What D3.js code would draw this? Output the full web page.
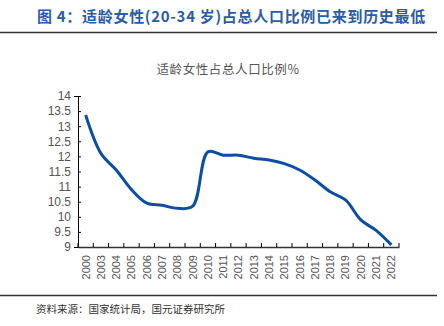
<!DOCTYPE html>
<html><head><meta charset="utf-8">
<script src="https://cdn.jsdelivr.net/npm/d3@7"></script>
<style>body{margin:0;background:#fff;}svg{display:block;}</style>
</head><body>
<script>
const years = ["2000","2003","2004","2005","2006","2007","2008","2009","2010","2011","2012","2013","2014","2015","2016","2017","2018","2019","2020","2021","2022"];
const ratio = [13.37,12.1,11.55,10.9,10.45,10.38,10.28,10.35,12.15,12.04,12.04,11.94,11.88,11.76,11.55,11.22,10.83,10.56,9.9,9.55,9.07];
const yTicks = [9,9.5,10,10.5,11,11.5,12,12.5,13,13.5,14];
const titleText = "图 4：适龄女性(20-34 岁)占总人口比例已来到历史最低";
const chartTitle = "适龄女性占总人口比例%";
const sourceText = "资料来源：国家统计局，国元证券研究所";

const W=444,H=326;
const svg=d3.select("body").append("svg").attr("width",W).attr("height",H);
const font="'Noto Sans CJK SC','Noto Sans',sans-serif";

svg.append("text").attr("x",37).attr("y",22).attr("fill","#2B5CA4").attr("font-weight","bold")
  .attr("font-size",15).attr("letter-spacing",0.7).attr("font-family",font).text(titleText);
svg.append("line").attr("x1",0).attr("x2",437).attr("y1",32.5).attr("y2",32.5).attr("stroke","#333").attr("stroke-width",1.5);

svg.append("text").attr("x",228).attr("y",74).attr("text-anchor","middle").attr("fill","#555")
  .attr("font-size",12.5).attr("letter-spacing",0.6).attr("font-family",font).text(chartTitle);

const x=d3.scaleBand().domain(years).range([78,399]);
const y=d3.scaleLinear().domain([9,14]).range([247,96]);

const ya=svg.append("g").attr("transform","translate(78,0)")
  .call(d3.axisLeft(y).tickValues(yTicks).tickSize(4).tickPadding(5).tickFormat(d=>d));
ya.select(".domain").attr("stroke","#000");
ya.selectAll(".tick line").attr("stroke","#000").attr("x2",3).attr("x1",0);
ya.selectAll("text").attr("fill","#555").attr("font-size",12).attr("font-family","'Liberation Sans',Arial,sans-serif").attr("x",-7);

const xa=svg.append("g").attr("transform","translate(0,247)")
  .call(d3.axisBottom(x).tickSize(0).tickPadding(0));
xa.select(".domain").attr("stroke","#333").attr("stroke-width",1.5);
xa.selectAll(".tick text").attr("fill","#555").attr("font-size",11).attr("font-family","'Liberation Sans',Arial,sans-serif")
  .attr("transform","rotate(-90)").attr("text-anchor","end").attr("dy","0.35em").attr("x",-8).attr("y",0);
const bounds=years.map(d=>x(d)).concat([x(years[years.length-1])+x.bandwidth()]);
svg.append("g").selectAll("line").data(bounds).join("line")
  .attr("x1",d=>d).attr("x2",d=>d).attr("y1",247).attr("y2",243).attr("stroke","#000");

const line=d3.line().x((d,i)=>x(years[i])+x.bandwidth()/2).y(d=>y(d)).curve(d3.curveCatmullRom.alpha(0.5));
svg.append("path").datum(ratio).attr("d",line).attr("fill","none").attr("stroke","#0B4EA2").attr("stroke-width",3);

svg.append("line").attr("x1",0).attr("x2",437).attr("y1",295.5).attr("y2",295.5).attr("stroke","#333").attr("stroke-width",1.5);
svg.append("text").attr("x",36).attr("y",313).attr("fill","#333").attr("font-size",10.5).attr("font-family",font).text(sourceText);
</script>
</body></html>
